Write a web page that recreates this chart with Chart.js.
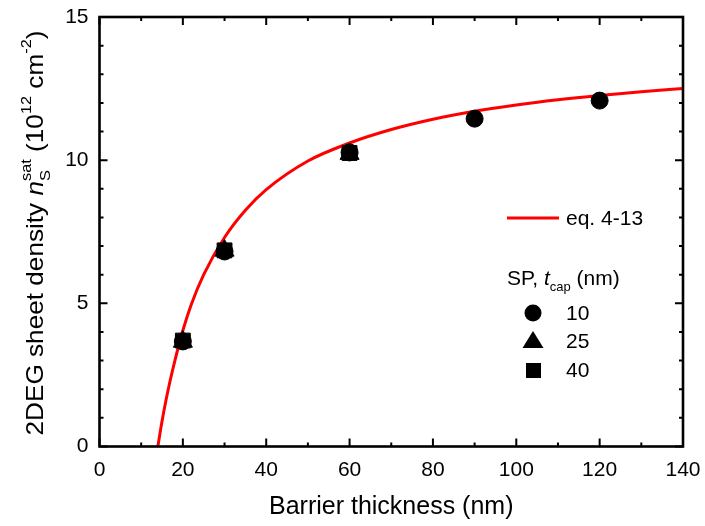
<!DOCTYPE html>
<html>
<head>
<meta charset="utf-8">
<script src="https://cdn.jsdelivr.net/npm/chart.js@4.4.1/dist/chart.umd.min.js"></script>
<style>
  html, body { margin: 0; padding: 0; background: #fff; }
  #chart { display: block; }
</style>
</head>
<body>
<canvas id="chart" width="705" height="526"></canvas>
<script>
const FONT = '"Liberation Sans", Arial, Helvetica, sans-serif';

// eq. 4-13: saturation sheet density vs barrier thickness
const fitThickness = [14, 15, 16, 17, 18, 20, 22, 25, 30, 35, 40, 50, 60, 70, 80, 90, 100, 110, 120, 130, 140];
const fitDensity = [0, 0.88, 1.65, 2.33, 2.95, 4.05, 4.95, 6.0, 7.3, 8.25, 8.97, 9.97, 10.6, 11.07, 11.43, 11.71, 11.93, 12.11, 12.26, 12.39, 12.5];

// SP samples, one set per cap thickness (nm)
const thick10 = [20, 30, 60, 90, 120];
const dens10 = [3.67, 6.81, 10.27, 11.45, 12.08];
const thick25 = [20, 30, 60];
const dens25 = [3.66, 6.84, 10.22];
const thick40 = [20, 30, 60];
const dens40 = [3.7, 6.85, 10.25];

const xMajor = [0, 20, 40, 60, 80, 100, 120, 140];
const xMinor = [10, 30, 50, 70, 90, 110, 130];
const yMajor = [0, 5, 10, 15];
const yMinor = [1, 2, 3, 4, 6, 7, 8, 9, 11, 12, 13, 14];

const pts = (xs, ys) => xs.map((v, i) => ({ x: v, y: ys[i] }));

// inward ticks on all four sides plus the box
const framePlugin = {
  id: 'frame',
  afterDatasetsDraw(chart) {
    const { ctx, chartArea: a, scales: { x, y } } = chart;
    ctx.save();
    ctx.strokeStyle = '#000';
    ctx.lineWidth = 2;
    ctx.beginPath();
    const xt = (list, len) => list.forEach(v => {
      const px = x.getPixelForValue(v);
      ctx.moveTo(px, a.bottom); ctx.lineTo(px, a.bottom - len);
      ctx.moveTo(px, a.top); ctx.lineTo(px, a.top + len);
    });
    const yt = (list, len) => list.forEach(v => {
      const py = y.getPixelForValue(v);
      ctx.moveTo(a.left, py); ctx.lineTo(a.left + len, py);
      ctx.moveTo(a.right, py); ctx.lineTo(a.right - len, py);
    });
    xt(xMajor, 8); xt(xMinor, 4);
    yt(yMajor, 8); yt(yMinor, 4);
    ctx.stroke();
    ctx.lineWidth = 2.6;
    ctx.strokeRect(a.left, a.top, a.right - a.left, a.bottom - a.top);
    ctx.restore();
  }
};

// draws a run of [text, style] pieces; style: n normal, i italic, sub, sup
function richText(ctx, parts, size, draw) {
  const small = Math.round(size * 0.62);
  let w = 0;
  const items = [];
  let i = 0;
  while (i < parts.length) {
    const [t, s] = parts[i];
    if (s === 'sub' && parts[i + 1] && parts[i + 1][1] === 'sup') {
      // stacked sub + sup
      ctx.font = small + 'px ' + FONT;
      const w1 = ctx.measureText(t).width, w2 = ctx.measureText(parts[i + 1][0]).width;
      items.push({ t, font: ctx.font, x: w, dy: size * 0.3 });
      items.push({ t: parts[i + 1][0], font: ctx.font, x: w, dy: -size * 0.5 });
      w += Math.max(w1, w2);
      i += 2;
      continue;
    }
    let font = size + 'px ' + FONT, dy = 0;
    if (s === 'i') font = 'italic ' + size + 'px ' + FONT;
    if (s === 'sub') { font = small + 'px ' + FONT; dy = size * 0.3; }
    if (s === 'sup') { font = small + 'px ' + FONT; dy = -size * 0.5; }
    ctx.font = font;
    items.push({ t, font, x: w, dy });
    w += ctx.measureText(t).width;
    i++;
  }
  if (draw) items.forEach(it => { ctx.font = it.font; ctx.fillText(it.t, draw.x + it.x, draw.y + it.dy); });
  return w;
}

const yTitleParts = [
  ['2DEG sheet density ', 'n'], ['n', 'i'], ['S', 'sub'], ['sat', 'sup'],
  [' (10', 'n'], ['12', 'sup'], [' cm', 'n'], ['-2', 'sup'], [')', 'n']
];

const textPlugin = {
  id: 'texts',
  afterDraw(chart) {
    const { ctx } = chart;
    ctx.save();
    ctx.fillStyle = '#000';
    ctx.textBaseline = 'alphabetic';
    ctx.textAlign = 'left';

    // rotated y-axis title, stretched a little along its length
    ctx.save();
    ctx.translate(43, 233);
    ctx.rotate(-Math.PI / 2);
    ctx.scale(1.09, 1);
    const tw = richText(ctx, yTitleParts, 24, null);
    richText(ctx, yTitleParts, 24, { x: -tw / 2, y: 0 });
    ctx.restore();

    // legend
    ctx.strokeStyle = '#ff0000';
    ctx.lineWidth = 3;
    ctx.beginPath();
    ctx.moveTo(507, 218); ctx.lineTo(559, 218);
    ctx.stroke();
    ctx.font = '21px ' + FONT;
    ctx.textBaseline = 'middle';
    ctx.fillText('eq. 4-13', 566, 219);

    ctx.textBaseline = 'alphabetic';
    richText(ctx, [['SP, ', 'n'], ['t', 'i'], ['cap', 'sub'], [' (nm)', 'n']], 21, { x: 507, y: 285 });

    ctx.fillStyle = '#000';
    ctx.beginPath();
    ctx.arc(533, 313, 8.5, 0, Math.PI * 2);
    ctx.fill();
    ctx.beginPath();
    ctx.moveTo(533, 331); ctx.lineTo(543.5, 348); ctx.lineTo(522.5, 348);
    ctx.closePath();
    ctx.fill();
    ctx.fillRect(526, 363, 15, 15);

    ctx.font = '21px ' + FONT;
    ctx.textBaseline = 'middle';
    ctx.fillText('10', 566, 314);
    ctx.fillText('25', 566, 342);
    ctx.fillText('40', 566, 371);
    ctx.restore();
  }
};

const marker = (style, r) => ({
  showLine: false,
  pointStyle: style,
  pointRadius: r,
  pointBackgroundColor: '#000',
  pointBorderColor: '#000',
  pointBorderWidth: 1
});

new Chart(document.getElementById('chart'), {
  type: 'scatter',
  data: {
    datasets: [
      {
        type: 'line',
        label: 'eq. 4-13',
        data: pts(fitThickness, fitDensity),
        borderColor: '#ff0000',
        borderWidth: 3,
        pointRadius: 0,
        cubicInterpolationMode: 'monotone',
        order: 4
      },
      Object.assign({ label: '40', data: pts(thick40, dens40), order: 3 }, marker('rect', 10.5)),
      Object.assign({ label: '25', data: pts(thick25, dens25), order: 2 }, marker('triangle', 11)),
      Object.assign({ label: '10', data: pts(thick10, dens10), order: 1 }, marker('circle', 8.5))
    ]
  },
  options: {
    responsive: false,
    devicePixelRatio: 1,
    animation: false,
    events: [],
    layout: { padding: { top: 17, right: 22, left: 0, bottom: 0 } },
    plugins: { legend: { display: false }, tooltip: { enabled: false } },
    scales: {
      x: {
        type: 'linear',
        min: 0, max: 140,
        afterBuildTicks: s => { s.ticks = xMajor.map(v => ({ value: v })); },
        afterFit: s => { s.height = 79.5; s.paddingLeft = 0; s.paddingRight = 0; },
        grid: { display: false, drawTicks: false },
        border: { display: false },
        ticks: { color: '#000', font: { family: FONT, size: 21 }, padding: 11, maxRotation: 0 },
        title: {
          display: true,
          text: 'Barrier thickness (nm)',
          color: '#000',
          font: { family: FONT, size: 25 },
          padding: { top: 0, bottom: 4 }
        }
      },
      y: {
        type: 'linear',
        min: 0, max: 15,
        afterBuildTicks: s => { s.ticks = yMajor.map(v => ({ value: v })); },
        afterFit: s => { s.width = 99.5; s.paddingTop = 0; s.paddingBottom = 0; },
        grid: { display: false, drawTicks: false },
        border: { display: false },
        ticks: { color: '#000', font: { family: FONT, size: 21 }, padding: 11 }
      }
    }
  },
  plugins: [framePlugin, textPlugin]
});
</script>
</body>
</html>
